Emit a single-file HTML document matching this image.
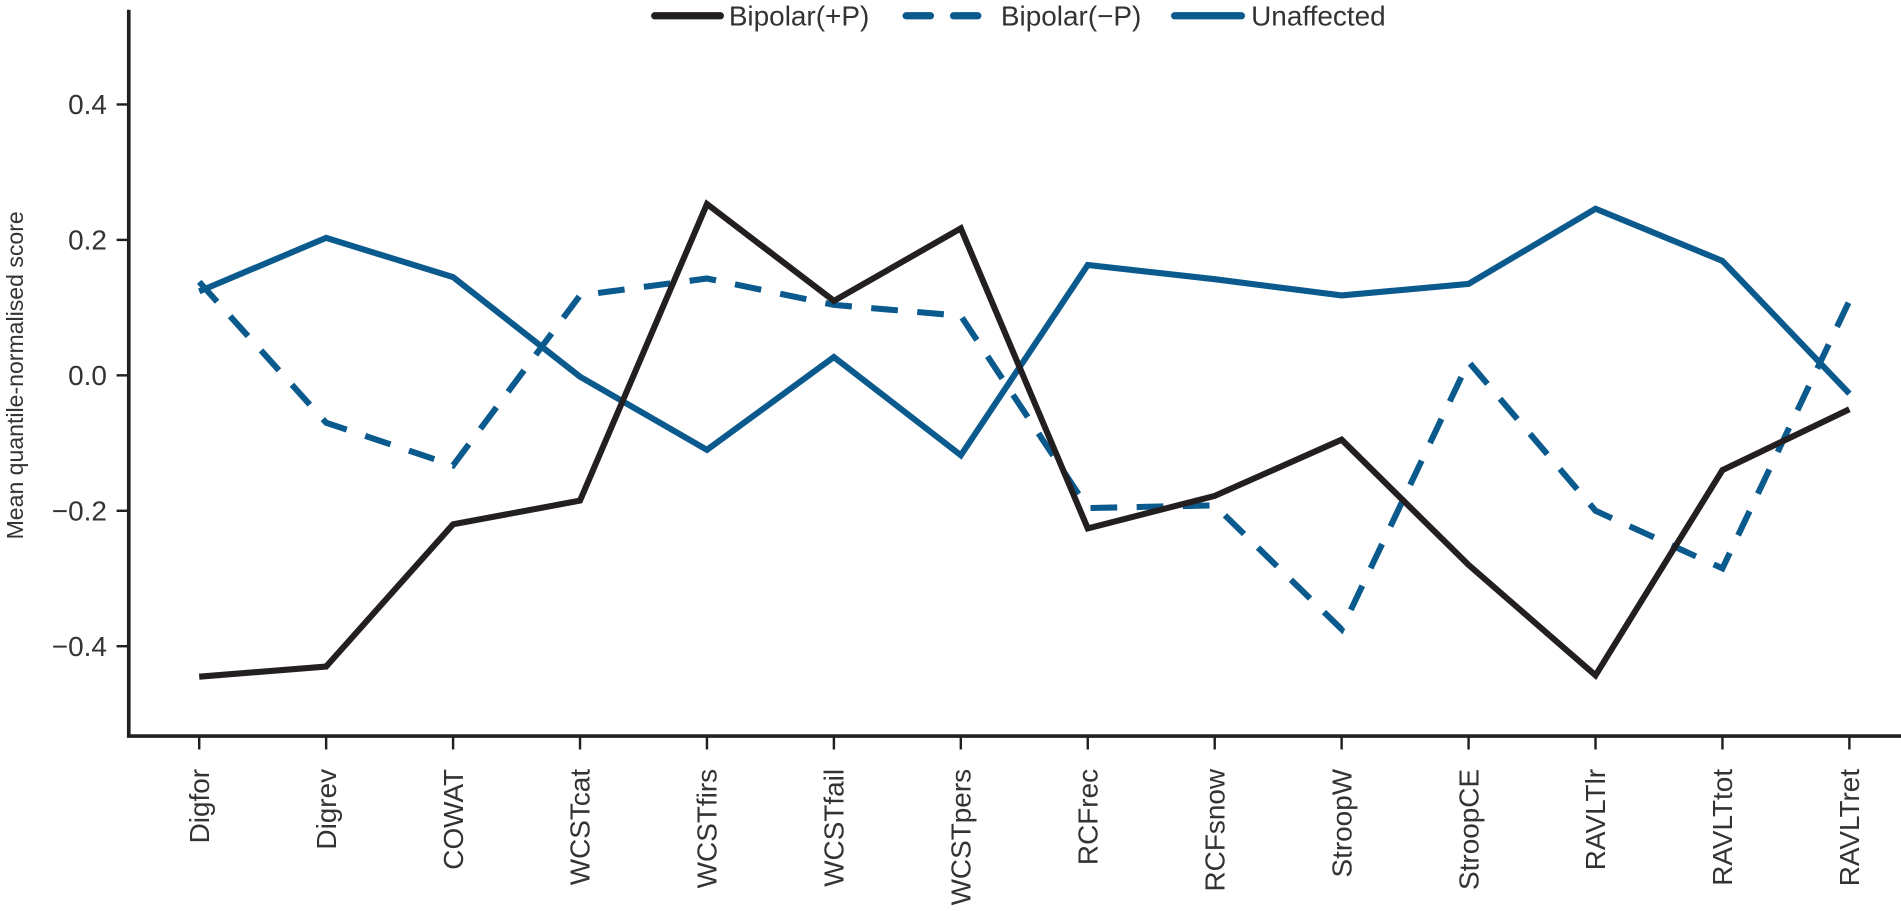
<!DOCTYPE html>
<html><head><meta charset="utf-8"><style>
html,body{margin:0;padding:0;background:#fff;}
svg{display:block;font-family:"Liberation Sans",sans-serif;}
</style></head><body>
<svg id="chart" width="1901" height="911">
<g id="root" transform="scale(1.2147)"></g>
</svg>
<script>
const categories=["Digfor","Digrev","COWAT","WCSTcat","WCSTfirs","WCSTfail","WCSTpers","RCFrec","RCFsnow","StroopW","StroopCE","RAVLTlr","RAVLTtot","RAVLTret"];
const bipolarPlusP=[-0.445,-0.43,-0.22,-0.185,0.253,0.11,0.217,-0.226,-0.178,-0.095,-0.28,-0.443,-0.14,-0.05];
const bipolarMinusP=[0.138,-0.07,-0.133,0.118,0.143,0.104,0.088,-0.196,-0.192,-0.375,0.02,-0.2,-0.285,0.11];
const unaffected=[0.124,0.203,0.145,-0.002,-0.11,0.027,-0.118,0.163,0.142,0.118,0.135,0.246,0.169,-0.027];
const yTicks=[0.4,0.2,0.0,-0.2,-0.4];
const yTickLabels=["0.4","0.2","0.0","\u22120.2","\u22120.4"];

const NS="http://www.w3.org/2000/svg";
const svg=document.getElementById('root');
const X0=164,DX=104.5;
function xs(i){return X0+i*DX;}
function ys(v){return 309-v*557.5;}
function mk(tag,attrs,parent){const e=document.createElementNS(NS,tag);for(const k in attrs)e.setAttribute(k,attrs[k]);(parent||svg).appendChild(e);return e;}
const BLUE="#0b5a8e",BLACK="#231f20";

const ya=mk('line',{x1:106,y1:8,x2:106,y2:607,stroke:BLACK,'stroke-width':3});


const xa=mk('line',{x1:104.5,y1:606,x2:1566,y2:606,stroke:BLACK,'stroke-width':3});



yTicks.forEach((v,i)=>{
 const t=mk('line',{x1:96,y1:ys(v),x2:106,y2:ys(v),stroke:BLACK,'stroke-width':2});
 
 
 const l=mk('text',{x:88,y:ys(v)+8,'text-anchor':'end','font-size':23,fill:'#333'});
 l.textContent=yTickLabels[i];
 
 
});
const yt=mk('text',{x:0,y:0,transform:'translate(19,309) rotate(-90)','text-anchor':'middle','font-size':19,fill:'#333'});
yt.textContent='Mean quantile-normalised score';



categories.forEach((c,i)=>{
 const t=mk('line',{x1:xs(i),y1:606,x2:xs(i),y2:617,stroke:BLACK,'stroke-width':2});
 
 
 const l=mk('text',{x:0,y:0,transform:`translate(${xs(i)+8},633) rotate(-90)`,'text-anchor':'end','font-size':23,fill:'#333'});
 l.textContent=c;
 
 
});

function series(vals,color,dash,name){
 const p=mk('polyline',{points:vals.map((v,i)=>xs(i)+','+ys(v)).join(' '),fill:'none',stroke:color,'stroke-width':5,'stroke-linejoin':'miter'});
 if(dash)p.setAttribute('stroke-dasharray',dash);
 
 
}
series(bipolarMinusP,BLUE,'22 16','line-bipolar-minus-p');
series(unaffected,BLUE,null,'line-unaffected');
series(bipolarPlusP,BLACK,null,'line-bipolar-plus-p');

function leg(x1,x2,tx,color,dash,label,name){
 const g=mk('g',{});
 
 
 const l=mk('line',{x1:x1,y1:13,x2:x2,y2:13,stroke:color,'stroke-width':6,'stroke-linecap':'round'},g);
 if(dash)l.setAttribute('stroke-dasharray',dash);
 
 
 const t=mk('text',{x:tx,y:21,'font-size':23,fill:'#333'},g);
 t.textContent=label;
 
 
}
leg(539,593,600,BLACK,null,'Bipolar(+P)','legend-entry-bipolar-plus-p');
leg(746,818,824,BLUE,'20 19','Bipolar(\u2212P)','legend-entry-bipolar-minus-p');
leg(967,1022,1030,BLUE,null,'Unaffected','legend-entry-unaffected');
</script>
</body></html>
